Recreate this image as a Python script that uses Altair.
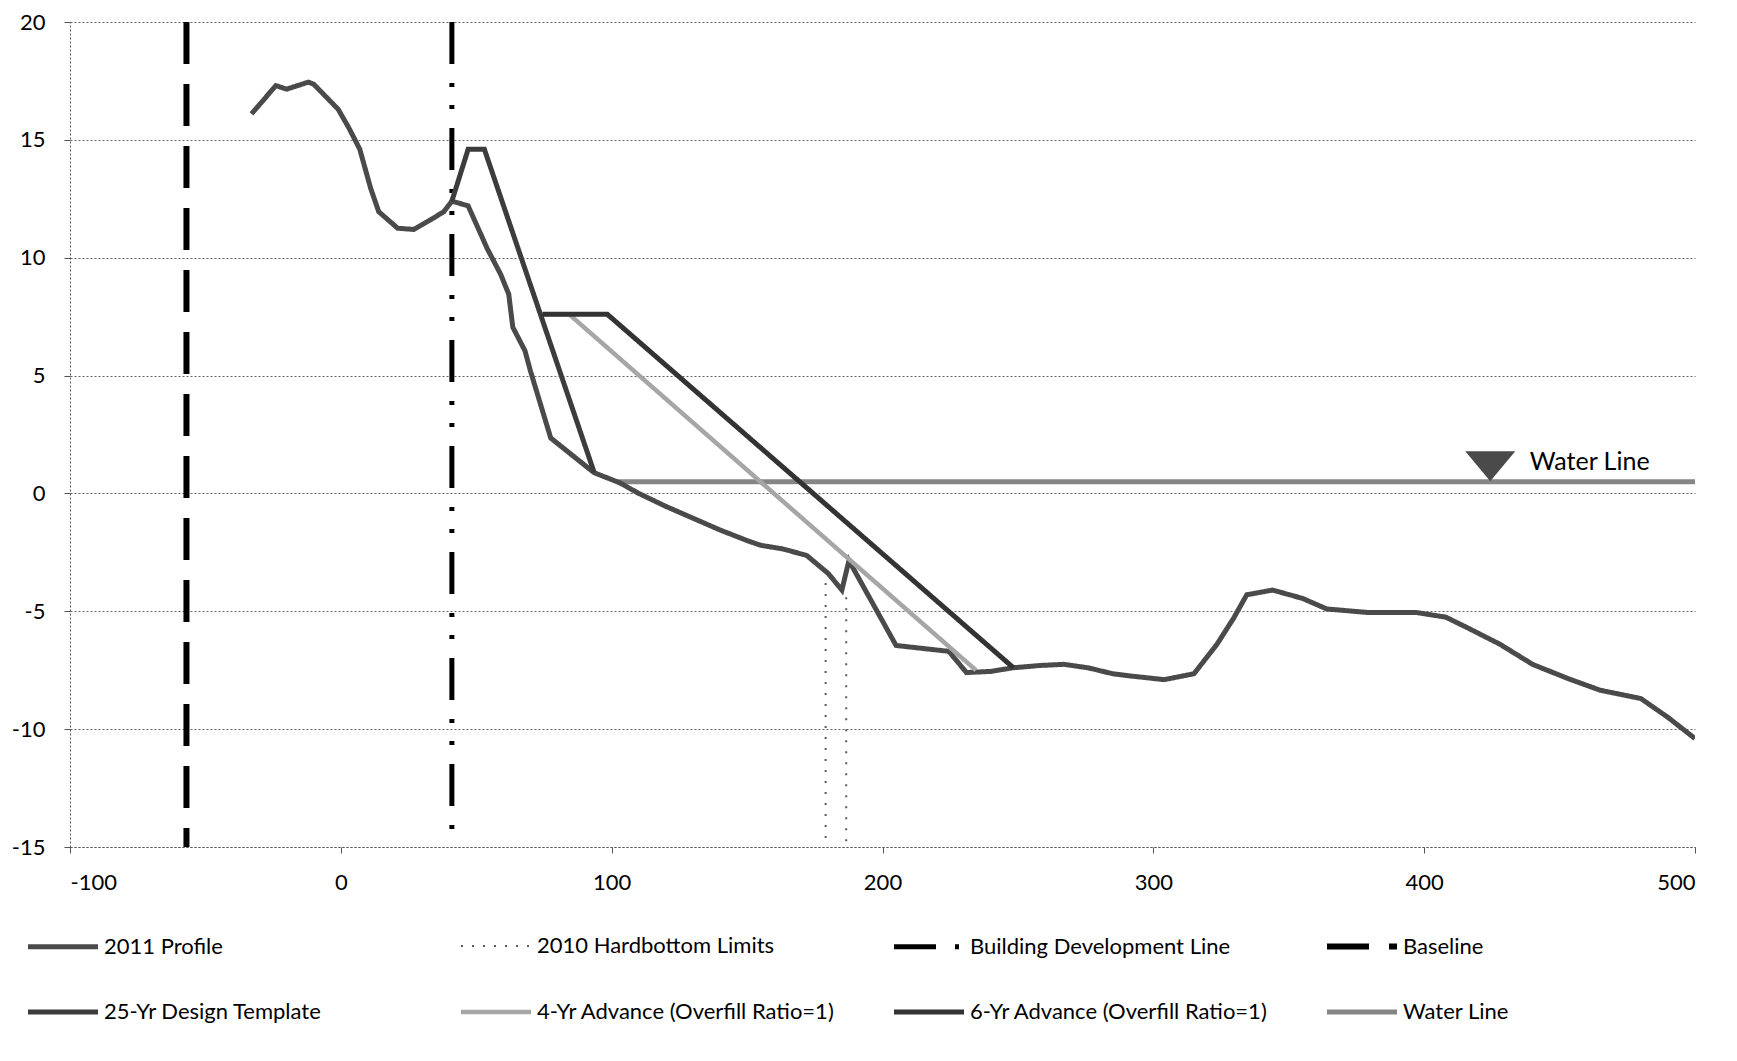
import altair as alt
import pandas as pd

# ---------------- data ----------------
series_names = [
    "2011 Profile", "2010 Hardbottom Limits", "Building Development Line", "Baseline",
    "25-Yr Design Template", "4-Yr Advance (Overfill Ratio=1)", "6-Yr Advance (Overfill Ratio=1)", "Water Line",
]
series_colors = ["#4a4a4a", "#5a5a5a", "#000000", "#000000", "#3c3c3c", "#a6a6a6", "#333333", "#868686"]
series_dash = [[1, 0], [2, 9], [42, 19, 4, 18, 4, 19], [42, 20], [1, 0], [1, 0], [1, 0], [1, 0]]
series_width = [5, 2, 5, 6, 5, 4.5, 5, 5]

profile_x = [-33, -24, -20, -12, -10, -1, 3, 7, 11, 14, 21, 27, 33, 38, 41, 47, 54, 59, 62, 63.5, 68, 70,
             77.5, 93.5, 103, 110, 120, 130, 140, 150, 155, 163, 172, 180, 185, 187.6, 198, 205, 224.5,
             231, 240, 248, 258, 267, 276, 285, 292, 304, 315, 323.5, 329.6, 334.5, 344, 355, 364, 379,
             397, 408, 416, 428, 440, 453, 465, 480, 490, 500]
profile_y = [16.1, 17.3, 17.15, 17.45, 17.36, 16.3, 15.5, 14.6, 12.95, 11.95, 11.25, 11.2, 11.6, 11.95,
             12.4, 12.2, 10.4, 9.3, 8.45, 7.05, 6.05, 5.2, 2.35, 0.88, 0.45, 0.0, -0.55, -1.05, -1.55,
             -2.0, -2.2, -2.35, -2.63, -3.4, -4.1, -2.85, -5.0, -6.45, -6.7, -7.6, -7.55, -7.4, -7.3,
             -7.25, -7.4, -7.65, -7.75, -7.9, -7.65, -6.4, -5.3, -4.3, -4.1, -4.45, -4.9, -5.05, -5.05,
             -5.25, -5.7, -6.4, -7.25, -7.85, -8.35, -8.7, -9.5, -10.4]

template_x = [41, 47, 53, 93.5]
template_y = [12.4, 14.6, 14.6, 0.9]

adv4_x = [74.5, 84.3, 234.5]
adv4_y = [7.6, 7.6, -7.5]

adv6_x = [74.5, 98.4, 248.4]
adv6_y = [7.6, 7.6, -7.4]

water_x = [102, 500]
water_y = [0.5, 0.5]

bdl_x = [41, 41]
bdl_y = [20, -15]

baseline_x = [-57, -57]
baseline_y = [20, -15]

hardbottom_x = [179, 179, 186.6, 186.6]
hardbottom_y = [-3.8, -15, -4.4, -15]
hardbottom_seg = [1, 1, 2, 2]

x_ticks = [-100, 0, 100, 200, 300, 400, 500]
y_ticks = [-15, -10, -5, 0, 5, 10, 15, 20]

marker_x = [424.4]
marker_y = [1.15]
label_x = [439]
label_y = [1.35]
label_text = ["Water Line"]

# ---------------- table ----------------
rows = []


def add(name, xs, ys, segs=None):
    for i, (xv, yv) in enumerate(zip(xs, ys)):
        s = segs[i] if segs else 0
        rows.append({"series": name, "x": xv, "y": yv, "seg": f"{name}-{s}", "idx": i})


add("Building Development Line", bdl_x, bdl_y)
add("Baseline", baseline_x, baseline_y)
add("2010 Hardbottom Limits", hardbottom_x, hardbottom_y, hardbottom_seg)
add("Water Line", water_x, water_y)
add("2011 Profile", profile_x, profile_y)
add("4-Yr Advance (Overfill Ratio=1)", adv4_x, adv4_y)
add("25-Yr Design Template", template_x, template_y)
add("6-Yr Advance (Overfill Ratio=1)", adv6_x, adv6_y)
df = pd.DataFrame(rows)

FONT = "Lato"

legend = alt.Legend(
    title=None, orient="none", direction="horizontal", legendX=-45, legendY=886.5, columns=4,
    gridAlign="all", columnPadding=47, rowPadding=16, symbolType="stroke", symbolSize=4900,
    labelOffset=3, labelFont=FONT, labelFontSize=22, labelColor="#000000", padding=0, labelLimit=500,
)

lines = alt.Chart(df).mark_line(clip=True, strokeCap="butt").encode(
    x=alt.X("x:Q", scale=alt.Scale(domain=[-100, 500], nice=False, zero=False),
            axis=alt.Axis(values=x_ticks, title=None, grid=False, labelExpr="'' + datum.value")),
    y=alt.Y("y:Q", scale=alt.Scale(domain=[-15, 20], nice=False, zero=False),
            axis=alt.Axis(values=y_ticks, title=None, grid=True, labelExpr="'' + datum.value")),
    color=alt.Color("series:N", scale=alt.Scale(domain=series_names, range=series_colors), legend=legend),
    strokeDash=alt.StrokeDash("series:N", scale=alt.Scale(domain=series_names, range=series_dash), legend=legend),
    strokeWidth=alt.StrokeWidth("series:N", scale=alt.Scale(type="ordinal", domain=series_names, range=series_width),
                                legend=legend),
    detail="seg:N",
    order="idx:Q",
)

mk = pd.DataFrame({"x": marker_x, "y": marker_y})
marker = alt.Chart(mk).mark_point(
    shape="M-1,-0.6L1,-0.6L0,0.6Z", filled=True, size=2500, color="#4a4a4a", opacity=1
).encode(x="x:Q", y="y:Q")

lb = pd.DataFrame({"x": label_x, "y": label_y, "t": label_text})
label = alt.Chart(lb).mark_text(
    align="left", baseline="middle", font=FONT, fontSize=25, color="#000000"
).encode(x="x:Q", y="y:Q", text="t:N")

chart = alt.layer(lines, marker, label).properties(
    width=1625, height=825,
    autosize=alt.AutoSizeParams(type="none"),
    padding={"left": 62, "top": 14, "right": 34, "bottom": 200},
).configure_view(stroke=None).configure_axis(
    labelFont=FONT, labelFontSize=22, labelColor="#000000",
    domainColor="#555555", domainDash=[2, 2], domainWidth=1,
    tickColor="#555555", tickSize=6, labelPadding=19,
    gridColor="#555555", gridDash=[2, 2], gridWidth=1, gridOpacity=0.9,
)

chart.save("out.html", embed_options={"renderer": "svg", "actions": False})
